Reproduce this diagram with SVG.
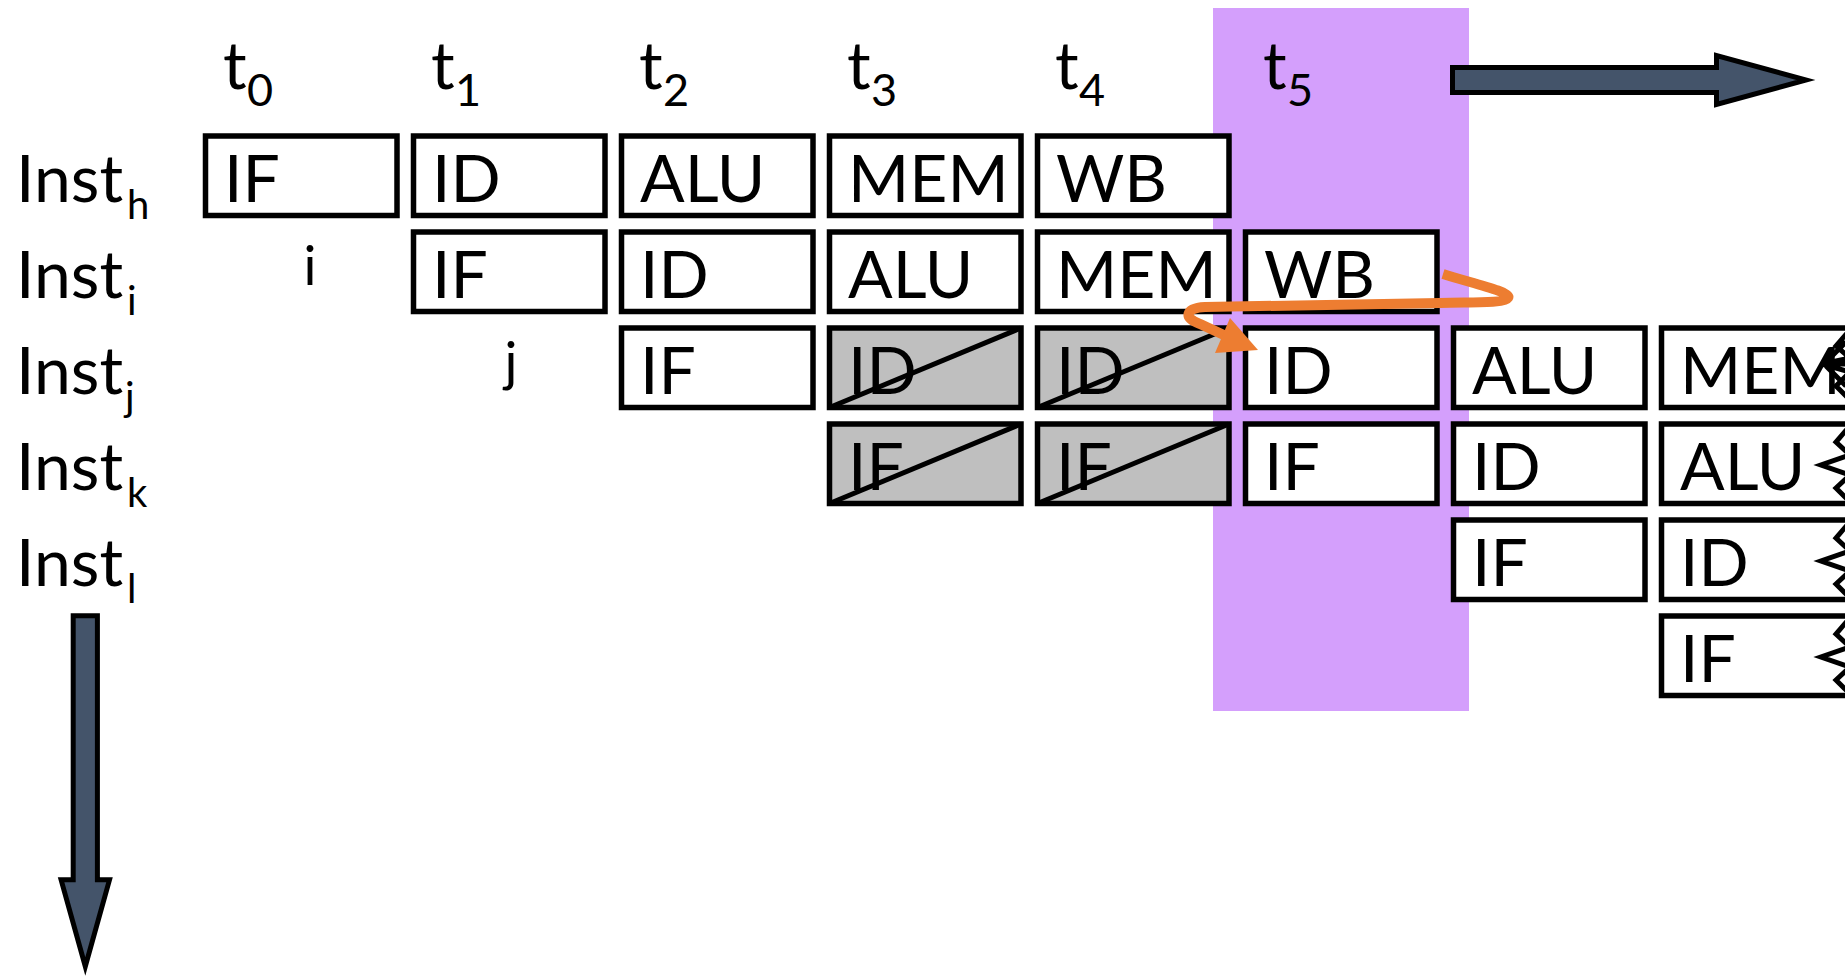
<svg xmlns="http://www.w3.org/2000/svg" width="1845" height="976" viewBox="0 0 1845 976">
<style>
.box{fill:#fff;stroke:#000;stroke-width:5.5}
.grey{fill:#BFBFBF;stroke:#000;stroke-width:5.5}
.diag{stroke:#000;stroke-width:5;fill:none}
.t{font-family:Lato,"Liberation Sans",sans-serif;font-size:66px;fill:#000}
.sub{font-size:45px}
.isub{font-size:40px}
.small{font-family:Lato,"Liberation Sans",sans-serif;font-size:54px;fill:#000;text-anchor:middle}
.zz{fill:none;stroke:#000;stroke-width:5;stroke-linejoin:miter}
.big{fill:#44546A;stroke:#000;stroke-width:5;stroke-linejoin:miter}
</style>
<rect id="highlight" x="1213" y="8" width="256" height="703" fill="#D49FFC"/>

<g id="time-labels">
<text class="t" x="223" y="89">t<tspan class="sub" x="247" y="106">0</tspan></text>
<text class="t" x="431" y="89">t<tspan class="sub" x="455" y="106">1</tspan></text>
<text class="t" x="639" y="89">t<tspan class="sub" x="663" y="106">2</tspan></text>
<text class="t" x="847" y="89">t<tspan class="sub" x="871" y="106">3</tspan></text>
<text class="t" x="1055" y="89">t<tspan class="sub" x="1079" y="106">4</tspan></text>
<text class="t" x="1263" y="89">t<tspan class="sub" x="1287" y="106">5</tspan></text>
</g>

<g id="inst-labels">
<text class="t" x="16" y="201.7">Inst<tspan class="isub" x="127" y="219">h</tspan></text>
<text class="t" x="16" y="297.7">Inst<tspan class="isub" x="127" y="315">i</tspan></text>
<text class="t" x="16" y="393.7">Inst<tspan class="isub" x="125" y="411">j</tspan></text>
<text class="t" x="16" y="489.7">Inst<tspan class="isub" x="127" y="507">k</tspan></text>
<text class="t" x="16" y="585.7">Inst<tspan class="isub" x="127" y="603">l</tspan></text>
<text class="small" x="310" y="285">i</text>
<text class="small" x="511" y="381">j</text>
</g>

<g id="h-IF"><rect class="box" x="205.5" y="136" width="191.5" height="79.5"/><text class="t" x="224" y="201.7">IF</text></g>
<g id="h-ID"><rect class="box" x="413.5" y="136" width="191.5" height="79.5"/><text class="t" x="432" y="201.7">ID</text></g>
<g id="h-ALU"><rect class="box" x="621.5" y="136" width="191.5" height="79.5"/><text class="t" x="640" y="201.7">ALU</text></g>
<g id="h-MEM"><rect class="box" x="829.5" y="136" width="191.5" height="79.5"/><text class="t" x="848" y="201.7">MEM</text></g>
<g id="h-WB"><rect class="box" x="1037.5" y="136" width="191.5" height="79.5"/><text class="t" x="1056" y="201.7">WB</text></g>

<g id="i-IF"><rect class="box" x="413.5" y="232" width="191.5" height="79.5"/><text class="t" x="432" y="297.7">IF</text></g>
<g id="i-ID"><rect class="box" x="621.5" y="232" width="191.5" height="79.5"/><text class="t" x="640" y="297.7">ID</text></g>
<g id="i-ALU"><rect class="box" x="829.5" y="232" width="191.5" height="79.5"/><text class="t" x="848" y="297.7">ALU</text></g>
<g id="i-MEM"><rect class="box" x="1037.5" y="232" width="191.5" height="79.5"/><text class="t" x="1056" y="297.7">MEM</text></g>
<g id="i-WB"><rect class="box" x="1245.5" y="232" width="191.5" height="79.5"/><text class="t" x="1264" y="297.7">WB</text></g>

<g id="j-IF"><rect class="box" x="621.5" y="328" width="191.5" height="79.5"/><text class="t" x="640" y="393.7">IF</text></g>
<g id="j-ID-stall1"><rect class="grey" x="829.5" y="328" width="191.5" height="79.5"/><text class="t" x="848" y="393.7">ID</text><line class="diag" x1="829.5" y1="407.5" x2="1021" y2="328"/></g>
<g id="j-ID-stall2"><rect class="grey" x="1037.5" y="328" width="191.5" height="79.5"/><text class="t" x="1056" y="393.7">ID</text><line class="diag" x1="1037.5" y1="407.5" x2="1229" y2="328"/></g>
<g id="j-ID"><rect class="box" x="1245.5" y="328" width="191.5" height="79.5"/><text class="t" x="1264" y="393.7">ID</text></g>
<g id="j-ALU"><rect class="box" x="1453.5" y="328" width="191.5" height="79.5"/><text class="t" x="1472" y="393.7">ALU</text></g>
<g id="j-MEM"><rect class="box" x="1661.5" y="328" width="191.5" height="79.5"/><text class="t" x="1680" y="393.7">MEM</text>
<path class="zz" d="M1848,332 L1836,346 L1850,358 L1822,364 L1850,372 L1836,386 L1848,398 M1822,364 L1846,364 M1826,362 L1846,342 M1826,366 L1846,386"/></g>

<g id="k-IF-stall1"><rect class="grey" x="829.5" y="424" width="191.5" height="79.5"/><text class="t" x="848" y="489.7">IF</text><line class="diag" x1="829.5" y1="503.5" x2="1021" y2="424"/></g>
<g id="k-IF-stall2"><rect class="grey" x="1037.5" y="424" width="191.5" height="79.5"/><text class="t" x="1056" y="489.7">IF</text><line class="diag" x1="1037.5" y1="503.5" x2="1229" y2="424"/></g>
<g id="k-IF"><rect class="box" x="1245.5" y="424" width="191.5" height="79.5"/><text class="t" x="1264" y="489.7">IF</text></g>
<g id="k-ID"><rect class="box" x="1453.5" y="424" width="191.5" height="79.5"/><text class="t" x="1472" y="489.7">ID</text></g>
<g id="k-ALU"><rect class="box" x="1661.5" y="424" width="191.5" height="79.5"/><text class="t" x="1680" y="489.7">ALU</text>
<path class="zz" d="M1848,428 L1836,442 L1850,455 L1821,465 L1850,475 L1836,488 L1848,500"/></g>

<g id="l-IF"><rect class="box" x="1453.5" y="520" width="191.5" height="79.5"/><text class="t" x="1472" y="585.7">IF</text></g>
<g id="l-ID"><rect class="box" x="1661.5" y="520" width="191.5" height="79.5"/><text class="t" x="1680" y="585.7">ID</text>
<path class="zz" d="M1848,524 L1836,538 L1850,551 L1821,561 L1850,571 L1836,584 L1848,596"/></g>

<g id="m-IF"><rect class="box" x="1661.5" y="616" width="191.5" height="79.5"/><text class="t" x="1680" y="681.7">IF</text>
<path class="zz" d="M1848,620 L1836,634 L1850,647 L1821,657 L1850,667 L1836,680 L1848,692"/></g>

<g id="time-arrow"><polygon class="big" points="1452.5,67.5 1716.5,67.5 1716.5,55.5 1806,80 1716.5,104.5 1716.5,92.5 1452.5,92.5"/></g>
<g id="inst-arrow"><polygon class="big" points="73.2,615.8 97.4,615.8 97.4,879.8 109.5,879.8 85.3,966.5 61.1,879.8 73.2,879.8"/></g>

<g id="connectors">
<path d="M1443,274 C1475,284 1512,292 1508,298 C1505,303 1480,302 1440,303 L1205,307 C1185,308 1183,318 1200,324 L1226,336" fill="none" stroke="#ED7D31" stroke-width="10"/>
<polygon points="1230,318 1215,353 1258,350" fill="#ED7D31"/>
</g>
</svg>
